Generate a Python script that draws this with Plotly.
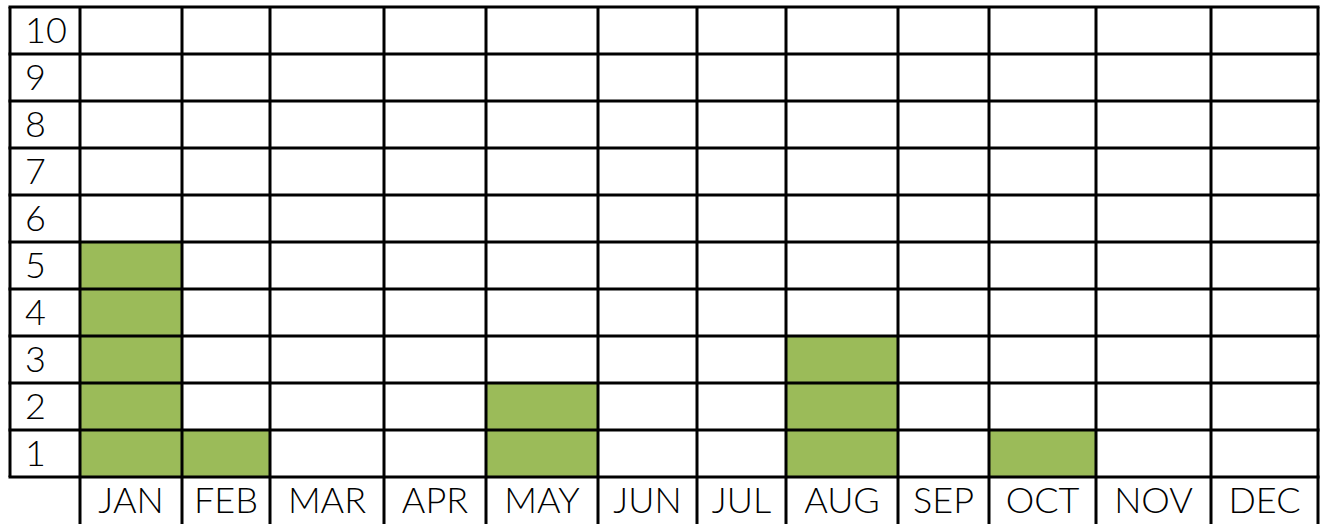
import plotly.graph_objects as go

# ---- data ----
months = ["JAN", "FEB", "MAR", "APR", "MAY", "JUN", "JUL", "AUG", "SEP", "OCT", "NOV", "DEC"]
counts = [5, 1, 0, 0, 2, 0, 0, 3, 0, 1, 0, 0]
levels = [1, 2, 3, 4, 5, 6, 7, 8, 9, 10]
level_labels = [str(v) for v in levels]

# ---- layout geometry (column edges in pixel units, rows in level units) ----
W, H = 1322, 524
left_edge = 10
col_edges = [80, 182, 270, 384, 486, 598, 697, 786, 898, 989, 1096, 1211, 1318]
row_edges = [lv - 0.5 for lv in levels] + [levels[-1] + 0.5]
GREEN = "#9BBB59"
FONT = "Lato"
FS = 36
LW = 3

top_px, bottom_row_px = 7.0, 477.0
row_px = (bottom_row_px - top_px) / 10.0
y_bottom = 0.5 - (H - bottom_row_px) / row_px
y_top = 10.5 + top_px / row_px
text_dy = -3.0 / row_px

z = [[1 if c >= lv else 0 for c in counts] for lv in levels]

fig = go.Figure()
fig.add_trace(go.Heatmap(
    x=col_edges, y=row_edges, z=z,
    colorscale=[[0, "#FFFFFF"], [1, GREEN]], zmin=0, zmax=1,
    showscale=False, hoverinfo="skip",
))

centers = [(col_edges[i] + col_edges[i + 1]) / 2 for i in range(len(months))]
fig.add_trace(go.Scatter(
    x=centers, y=[0 + text_dy] * len(months), text=months, mode="text",
    textposition="middle center",
    textfont=dict(family=FONT, size=FS, color="#000000", weight=300),
    hoverinfo="skip", showlegend=False, cliponaxis=False,
))
fig.add_trace(go.Scatter(
    x=[25] * len(levels), y=[lv + text_dy for lv in levels], text=level_labels, mode="text",
    textposition="middle right",
    textfont=dict(family=FONT, size=FS, color="#000000", weight=300),
    hoverinfo="skip", showlegend=False, cliponaxis=False,
))

shapes = []
for ye in row_edges:
    shapes.append(dict(type="line", xref="x", yref="y", x0=left_edge - 1.5, x1=col_edges[-1] + 1.5,
                       y0=ye, y1=ye, line=dict(color="black", width=LW), layer="above"))
shapes.append(dict(type="line", xref="x", yref="y", x0=left_edge, x1=left_edge,
                   y0=row_edges[0], y1=row_edges[-1], line=dict(color="black", width=LW), layer="above"))
for xe in col_edges:
    shapes.append(dict(type="line", xref="x", yref="y", x0=xe, x1=xe,
                       y0=y_bottom - 0.1, y1=row_edges[-1], line=dict(color="black", width=LW), layer="above"))

fig.update_layout(
    width=W, height=H,
    margin=dict(l=0, r=0, t=0, b=0),
    paper_bgcolor="white", plot_bgcolor="white",
    showlegend=False, shapes=shapes,
    xaxis=dict(range=[0, W], visible=False, fixedrange=True),
    yaxis=dict(range=[y_bottom, y_top], visible=False, fixedrange=True),
)

fig.write_html(
    "out.html",
    config={"displayModeBar": False, "staticPlot": True},
    post_script="document.body.style.margin='0';document.body.style.overflow='hidden';",
)
